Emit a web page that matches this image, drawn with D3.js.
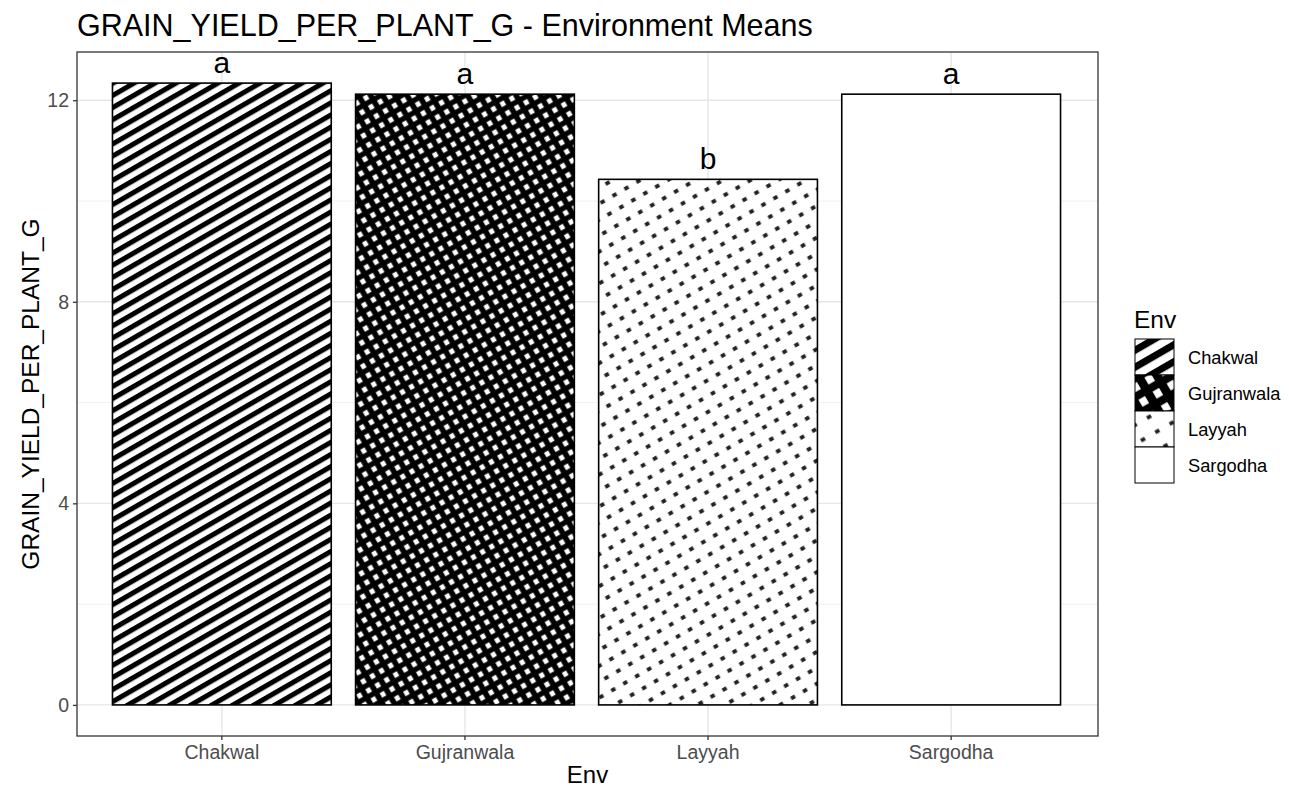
<!DOCTYPE html>
<html><head><meta charset="utf-8">
<script src="https://cdn.jsdelivr.net/npm/d3@7"></script>
<style>body{margin:0;background:#fff}text{font-family:"Liberation Sans",Arial,sans-serif}</style>
</head><body><svg id="c" width="1289" height="789"></svg>
<script>
const categories = ["Chakwal","Gujranwala","Layyah","Sargodha"];
const values = [12.34, 12.12, 10.43, 12.12];
const letters = ["a","a","b","a"];
const patterns = ["stripe","crosshatch","dots","none"];
const yTicks = [0,4,8,12];
const yMinor = [2,6,10];

const svg = d3.select("#c");
const L=77,R=1098,T=52,B=736;
const maxV = d3.max(values);
const y = d3.scaleLinear().domain([-0.05*maxV, maxV*1.05]).range([B,T]);
const x = d3.scaleBand().domain(categories).range([L-1,R-1]).paddingInner(0.1).paddingOuter(0.15);

const defs = svg.append("defs");
function makePatterns(prefix, sStripe, sCross, sDots){
  const w = 10.5*sStripe;
  let p = defs.append("pattern").attr("id",prefix+"stripe").attr("patternUnits","userSpaceOnUse")
    .attr("width",w).attr("height",w).attr("patternTransform","rotate(-30)");
  p.append("rect").attr("width",w).attr("height",w).attr("fill","#fff");
  p.append("rect").attr("y",0).attr("width",w).attr("height",w*0.48).attr("fill","#000");
  // crosshatch: black with white squares
  const s = 10.5*sCross;
  p = defs.append("pattern").attr("id",prefix+"crosshatch").attr("patternUnits","userSpaceOnUse")
    .attr("width",s).attr("height",s).attr("patternTransform","rotate(-30)");
  p.append("rect").attr("width",s).attr("height",s).attr("fill","#000");
  p.append("rect").attr("x",s*0.3).attr("y",s*0.25).attr("width",s*0.46).attr("height",s*0.5).attr("fill","#fff");
  // dots
  const d = 13.8*sDots;
  p = defs.append("pattern").attr("id",prefix+"dots").attr("patternUnits","userSpaceOnUse")
    .attr("width",d).attr("height",d).attr("patternTransform","rotate(-30)");
  p.append("rect").attr("width",d).attr("height",d).attr("fill","#fff");
  p.append("rect").attr("x",d/2-2.3).attr("y",d/2-1.9).attr("width",4.6).attr("height",3.8).attr("fill","#222");
}
makePatterns("m",1,1,1);
makePatterns("l",1.4,1.55,1.2);
const fillFor = (pre,k)=> k==="none" ? "#fff" : `url(#${pre}${k})`;

// title
svg.append("text").attr("x",L).attr("y",36).attr("font-size",30.5).attr("fill","#000")
  .text("GRAIN_YIELD_PER_PLANT_G - Environment Means");

// grid
const g = svg.append("g");
yMinor.forEach(v=>g.append("line").attr("x1",L).attr("x2",R).attr("y1",y(v)).attr("y2",y(v)).attr("stroke","#f0f0f0").attr("stroke-width",1));
yTicks.forEach(v=>g.append("line").attr("x1",L).attr("x2",R).attr("y1",y(v)).attr("y2",y(v)).attr("stroke","#e6e6e6").attr("stroke-width",1.4));
categories.forEach(c=>g.append("line").attr("x1",x(c)+x.bandwidth()/2).attr("x2",x(c)+x.bandwidth()/2).attr("y1",T).attr("y2",B).attr("stroke","#e6e6e6").attr("stroke-width",1.4));

// bars
categories.forEach((c,i)=>{
  svg.append("rect").attr("x",x(c)).attr("y",y(values[i])).attr("width",x.bandwidth()).attr("height",y(0)-y(values[i]))
    .attr("fill",fillFor("m",patterns[i])).attr("stroke","#000").attr("stroke-width",1.6);
  svg.append("text").attr("x",x(c)+x.bandwidth()/2).attr("y",y(values[i])-10).attr("text-anchor","middle")
    .attr("font-size",30).attr("fill","#000").text(letters[i]);
});

// panel border
svg.append("rect").attr("x",L).attr("y",T).attr("width",R-L).attr("height",B-T).attr("fill","none").attr("stroke","#333").attr("stroke-width",1.3);

// axes
const ya = svg.append("g").attr("transform",`translate(${L},0)`).call(d3.axisLeft(y).tickValues(yTicks).tickSize(4).tickPadding(4));
const xa = svg.append("g").attr("transform",`translate(0,${B})`).call(d3.axisBottom(x).tickSize(4).tickPadding(5));
[ya,xa].forEach(a=>{a.select(".domain").remove();a.selectAll(".tick line").attr("stroke","#333").attr("stroke-width",1.3);
  a.selectAll("text").attr("font-size",19.5).attr("fill","#4d4d4d").attr("font-family","Liberation Sans, Arial, sans-serif");});

svg.append("text").attr("x",(L+R)/2).attr("y",783).attr("text-anchor","middle").attr("font-size",24).text("Env");
svg.append("text").attr("transform",`translate(39,${(T+B)/2}) rotate(-90)`).attr("text-anchor","middle").attr("font-size",24.5).text("GRAIN_YIELD_PER_PLANT_G");

// legend
svg.append("text").attr("x",1134).attr("y",328).attr("font-size",24.5).text("Env");
categories.forEach((c,i)=>{
  const ky = 339 + i*36;
  svg.append("rect").attr("x",1135).attr("y",ky).attr("width",39).attr("height",36)
    .attr("fill",fillFor("l",patterns[i])).attr("stroke","#000").attr("stroke-width",1);
  svg.append("text").attr("x",1188).attr("y",ky+24.5).attr("font-size",18.3).text(c);
});
</script></body></html>
